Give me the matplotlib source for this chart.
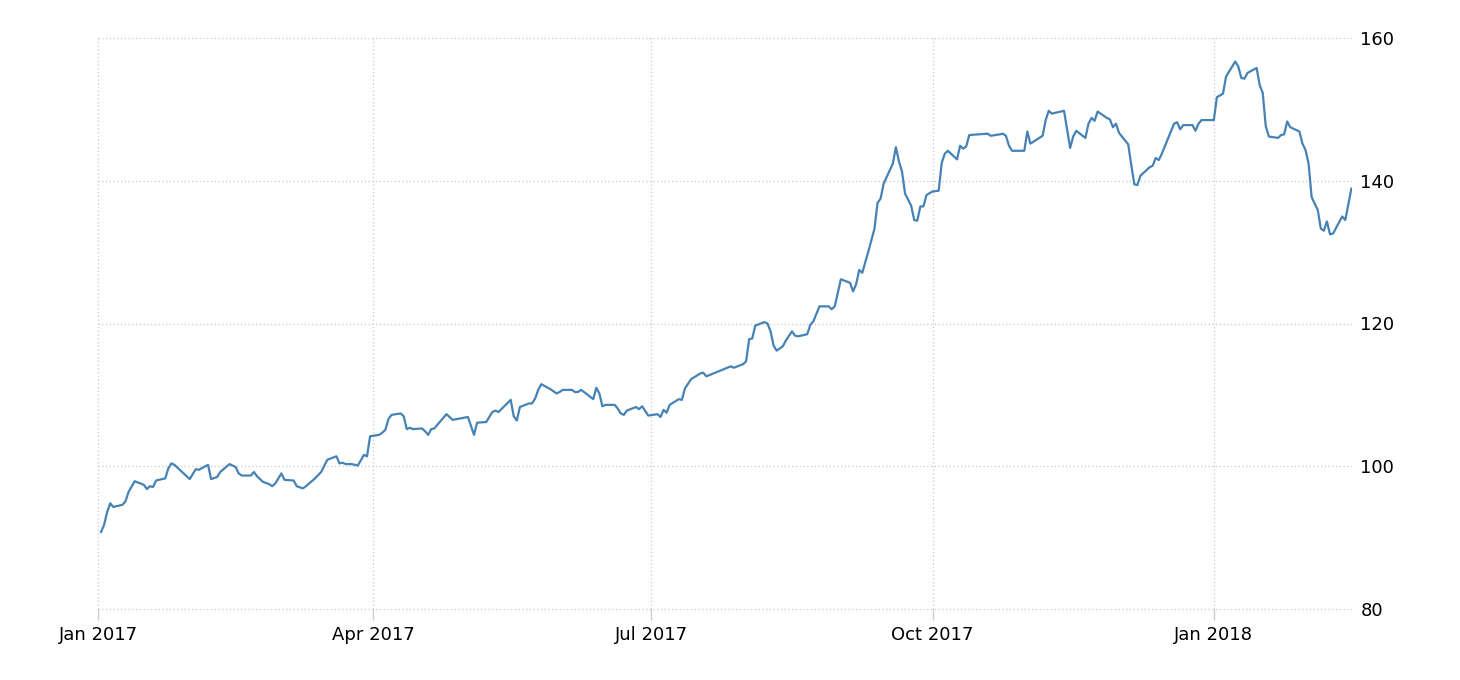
import matplotlib
matplotlib.use("Agg")
import matplotlib.pyplot as plt
import matplotlib.dates as mdates
import pandas as pd

# days since 2017-01-01
day_offsets = [
    1, 2, 3, 4, 5, 8, 9, 10, 12, 15, 16, 17, 18, 19, 22, 23, 24, 25, 28, 30,
    32, 33, 36, 37, 39, 40, 43, 45, 46, 47, 50, 51, 52, 54, 56, 57, 58, 60, 61, 64,
    65, 67, 68, 71, 73, 75, 78, 79, 80, 81, 83, 85, 87, 88, 89, 92, 93, 94, 95, 96,
    99, 100, 101, 102, 103, 106, 107, 108, 109, 110, 114, 116, 121, 123, 124, 127, 128, 129, 130, 131,
    135, 136, 137, 138, 141, 142, 143, 144, 145, 148, 150, 151, 152, 154, 155, 156, 157, 158, 159, 162,
    163, 164, 165, 166, 169, 170, 171, 172, 173, 176, 177, 178, 180, 183, 184, 185, 186, 187, 190, 191,
    192, 194, 197, 198, 199, 207, 208, 211, 212, 213, 214, 215, 218, 219, 220, 221, 222, 224, 225, 227,
    228, 229, 232, 233, 234, 236, 239, 240, 241, 243, 246, 247, 248, 249, 250, 252, 254, 255, 256, 257,
    260, 261, 262, 263, 264, 266, 267, 268, 269, 270, 271, 273, 275, 276, 277, 278, 281, 282, 283, 284,
    285, 291, 292, 295, 296, 297, 298, 299, 303, 304, 305, 309, 310, 311, 312, 316, 318, 319, 320, 323,
    324, 325, 326, 327, 330, 331, 332, 333, 334, 337, 338, 339, 340, 341, 344, 345, 346, 347, 348, 352,
    353, 354, 355, 358, 359, 360, 361, 365, 366, 368, 369, 372, 373, 374, 375, 376, 379, 380, 381, 382,
    383, 386, 387, 388, 389, 390, 393, 394, 395, 396, 397, 399, 400, 401, 402, 403, 404, 407, 408, 410,
]

values = [
    90.8, 91.8, 93.6, 94.8, 94.3, 94.6, 95.1, 96.4, 97.9, 97.4, 96.8, 97.2, 97.1, 98.0, 98.3, 99.7, 100.4, 100.2, 99.0, 98.2,
    99.6, 99.5, 100.2, 98.2, 98.5, 99.2, 100.3, 99.9, 99.0, 98.7, 98.7, 99.2, 98.6, 97.8, 97.5, 97.2, 97.6, 99.0, 98.1, 98.0,
    97.2, 96.9, 97.2, 98.3, 99.2, 100.9, 101.4, 100.4, 100.5, 100.3, 100.3, 100.1, 101.6, 101.4, 104.2, 104.4, 104.7, 105.1, 106.6, 107.2,
    107.4, 107.0, 105.2, 105.4, 105.2, 105.3, 104.9, 104.4, 105.2, 105.3, 107.3, 106.5, 106.9, 104.4, 106.1, 106.2, 106.9, 107.6, 107.8, 107.6,
    109.3, 107.0, 106.4, 108.3, 108.8, 108.8, 109.5, 110.7, 111.5, 110.8, 110.2, 110.4, 110.7, 110.7, 110.7, 110.4, 110.4, 110.7, 110.4, 109.4,
    111.0, 110.2, 108.4, 108.6, 108.6, 108.1, 107.4, 107.2, 107.8, 108.3, 108.0, 108.4, 107.1, 107.3, 106.9, 107.9, 107.5, 108.6, 109.4, 109.3,
    110.9, 112.2, 113.0, 113.1, 112.6, 114.0, 113.8, 114.3, 114.7, 117.8, 117.9, 119.7, 120.2, 120.0, 118.9, 116.9, 116.2, 116.8, 117.6, 118.9,
    118.3, 118.2, 118.5, 119.8, 120.3, 122.4, 122.4, 122.0, 122.4, 126.2, 125.7, 124.5, 125.5, 127.5, 127.1, 130.1, 133.3, 136.9, 137.5, 139.6,
    142.4, 144.7, 142.7, 141.3, 138.2, 136.5, 134.5, 134.4, 136.4, 136.4, 138.0, 138.5, 138.6, 142.5, 143.8, 144.2, 143.0, 144.9, 144.5, 144.8,
    146.4, 146.6, 146.3, 146.5, 146.6, 146.3, 144.9, 144.2, 144.2, 146.9, 145.2, 146.3, 148.5, 149.8, 149.4, 149.8, 144.6, 146.2, 147.0, 146.0,
    148.0, 148.8, 148.4, 149.7, 148.8, 148.6, 147.5, 148.0, 146.7, 145.1, 142.2, 139.5, 139.4, 140.7, 141.9, 142.1, 143.2, 142.9, 143.8, 148.0,
    148.2, 147.2, 147.8, 147.8, 147.0, 148.0, 148.5, 148.5, 151.7, 152.2, 154.6, 156.7, 156.0, 154.4, 154.3, 155.1, 155.8, 153.4, 152.3, 147.6,
    146.2, 146.0, 146.4, 146.5, 148.3, 147.5, 146.9, 145.2, 144.3, 142.4, 137.7, 135.9, 133.3, 133.0, 134.3, 132.5, 132.6, 135.0, 134.5, 138.9,
]

x_tick_dates = ["2017-01-01", "2017-04-01", "2017-07-01", "2017-10-01", "2018-01-01"]
x_tick_labels = ["Jan 2017", "Apr 2017", "Jul 2017", "Oct 2017", "Jan 2018"]
y_ticks = [80, 100, 120, 140, 160]

start = pd.Timestamp("2017-01-01")
dates = start + pd.to_timedelta(day_offsets, unit="D")

fig = plt.figure(figsize=(14.6, 6.8), dpi=100)
ax = fig.add_axes([98 / 1460, 1 - 609 / 680, (1352 - 98) / 1460, (609 - 38) / 680])

ax.plot(dates, values, color="#4682b4", linewidth=1.6, solid_joinstyle="round")

ax.set_xlim(start, start + pd.Timedelta(days=410.2))
ax.set_ylim(80, 160)

ax.set_xticks(pd.to_datetime(x_tick_dates))
ax.set_xticklabels(x_tick_labels)
ax.set_yticks(y_ticks)
ax.set_yticklabels([str(v) for v in y_ticks])

ax.yaxis.tick_right()
ax.tick_params(axis="y", length=0, pad=6, labelsize=13, labelcolor="#000000")
ax.tick_params(axis="x", length=8, width=1, color="#cccccc", pad=4, labelsize=13, labelcolor="#000000")

for s in ax.spines.values():
    s.set_visible(False)

ax.grid(True, which="major", axis="both", color="#c8c8c8", linestyle=(0, (1, 2)), linewidth=0.9)
ax.set_axisbelow(True)
for gl in ax.get_xgridlines() + ax.get_ygridlines():
    gl.set_clip_on(False)

fig.savefig("out.png", dpi=100, facecolor="white")
